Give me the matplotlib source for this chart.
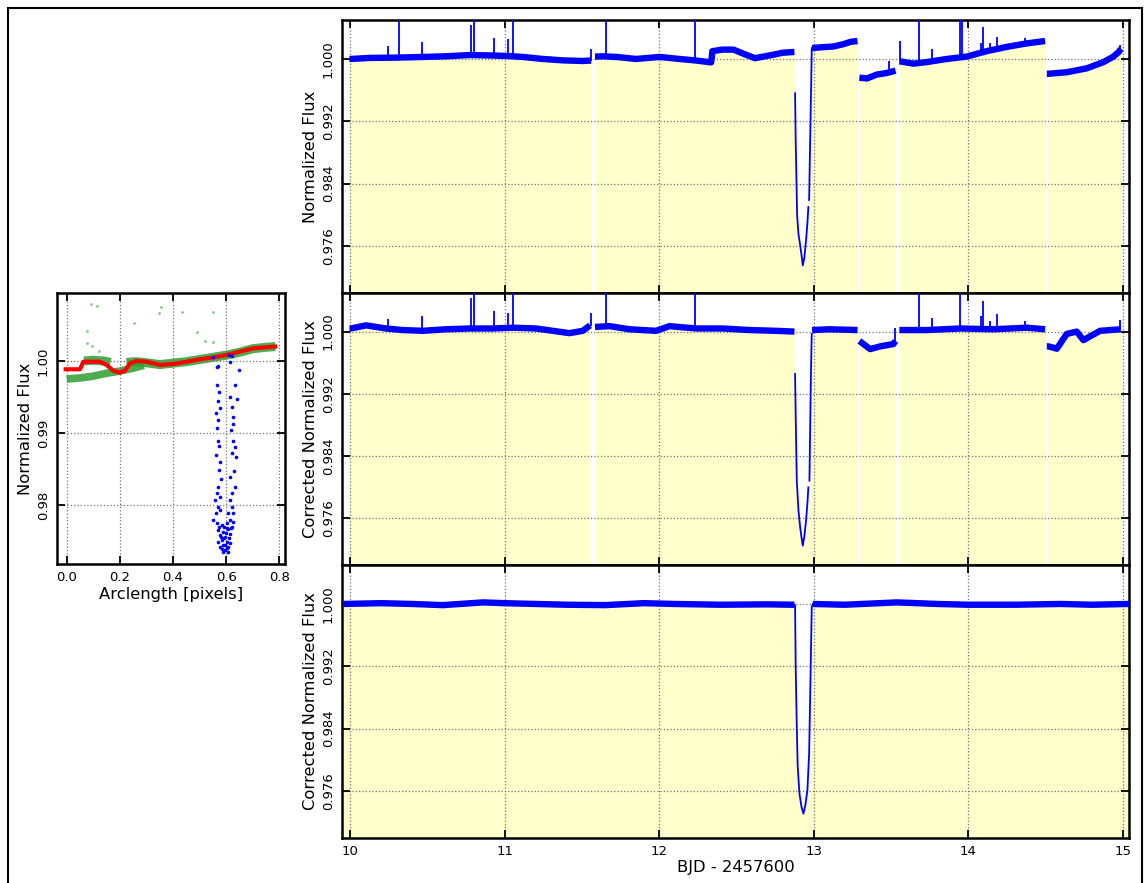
import numpy as np
import matplotlib
matplotlib.use('Agg')
import matplotlib.pyplot as plt
from matplotlib.patches import Rectangle

NaN = np.nan

# ---------------- data: raw light curve (top) ----------------
raw_base_t = [9.996, 10.006, 10.125, 10.298, 10.47, 10.62, 10.772, 10.88, 11.01, 11.118, 11.247, 11.377, 11.506, 11.56,
              11.572,
              11.585, 11.635, 11.722, 11.851, 12.002, 12.131, 12.239, 12.337, 12.345, 12.41, 12.481, 12.542, 12.62, 12.74, 12.80, 12.876,
              12.93,
              12.99, 13.05, 13.128, 13.193, 13.24, 13.284,
              13.29,
              13.296, 13.345, 13.41, 13.474, 13.53,
              13.54,
              13.555, 13.646, 13.733, 13.862, 13.99, 14.12, 14.25, 14.38, 14.498,
              14.503,
              14.509, 14.52, 14.64, 14.768, 14.876, 14.94, 14.975, 14.988]
raw_base_f = [1.0000, 1.0000, 1.00013, 1.00017, 1.00026, 1.00034, 1.0005, 1.00046, 1.00039, 1.00026, 1.0000, 0.99982, 0.99974, 0.9998,
              NaN,
              1.0003, 1.00034, 1.00026, 1.0000, 1.00026, 1.0000, 0.9998, 0.99956, 1.0010, 1.0012, 1.0012, 1.0007, 1.0001, 1.00055, 1.0008, 1.0009,
              NaN,
              1.0014, 1.0015, 1.0016, 1.0019, 1.0022, 1.0023,
              NaN,
              0.9976, 0.9975, 0.9980, 0.9982, 0.9985,
              NaN,
              0.9997, 0.9994, 0.9996, 1.0000, 1.0003, 1.0010, 1.00155, 1.0020, 1.0023,
              NaN,
              0.9981, 0.9981, 0.9983, 0.99880, 0.9996, 1.0003, 1.0009, 1.0013]
raw_tr_t = [12.880, 12.884, 12.889, 12.893, 12.902, 12.913, 12.922, 12.930, 12.940, 12.951, 12.960, 12.966, 12.969,
            12.971, 12.978, 12.984, 12.988]
raw_tr_f = [0.9956, 0.9895, 0.9845, 0.9800, 0.9775, 0.9761, 0.9748, 0.9735, 0.9745, 0.9767, 0.9790, 0.9810, NaN,
            0.9819, 0.9900, 0.9965, 1.0014]
raw_spike_t = [10.244, 10.320, 10.466, 10.780, 10.805, 10.930, 11.020, 11.053, 11.560, 11.657, 12.231,
               13.491, 13.556, 13.685, 13.765, 13.948, 13.958, 14.082, 14.099, 14.142, 14.186, 14.365, 14.985]
raw_spike_f = [1.0017, 1.0060, 1.0022, 1.0043, 1.0060, 1.0027, 1.0025, 1.0060, 1.0013, 1.0060, 1.0060,
               0.9997, 1.0023, 1.0060, 1.0013, 1.0060, 1.0060, 1.0021, 1.0041, 1.0020, 1.0028, 1.0027, 1.0018]

# ---------------- data: corrected light curve (middle) ----------------
cor_base_t = [9.996, 10.006, 10.104, 10.233, 10.341, 10.47, 10.62, 10.772, 10.924, 11.053, 11.204, 11.312, 11.42, 11.506, 11.553,
              11.572,
              11.585, 11.68, 11.808, 11.98, 12.067, 12.24, 12.412, 12.585, 12.757, 12.876,
              12.93,
              12.99, 13.10, 13.284,
              13.29,
              13.296, 13.366, 13.43, 13.516, 13.53,
              13.54,
              13.555, 13.733, 13.948, 14.164, 14.38, 14.498,
              14.503,
              14.509, 14.52, 14.574, 14.638, 14.703, 14.746, 14.79, 14.854, 14.988]
cor_base_f = [1.0004, 1.0004, 1.0008, 1.0004, 1.0002, 1.0001, 1.0003, 1.0004, 1.0004, 1.0005, 1.0004, 1.0001, 0.9998, 1.0001, 1.0008,
              NaN,
              1.0006, 1.0007, 1.0003, 1.0001, 1.0007, 1.0004, 1.0004, 1.0002, 1.0001, 1.0000,
              NaN,
              1.0002, 1.0003, 1.0002,
              NaN,
              0.9988, 0.99775, 0.9981, 0.9984, 0.9988,
              NaN,
              1.0002, 1.0002, 1.0004, 1.0003, 1.0005, 1.0003,
              NaN,
              0.9981, 0.9981, 0.9978, 0.9997, 1.0000, 0.9989, 0.9994, 1.0001, 1.0003]
cor_tr_t = [12.880, 12.885, 12.891, 12.902, 12.913, 12.922, 12.930, 12.940, 12.951, 12.960, 12.966, 12.969,
            12.973, 12.980, 12.985, 12.988]
cor_tr_f = [0.99456, 0.9880, 0.98084, 0.9770, 0.97483, 0.9735, 0.97248, 0.9737, 0.9757, 0.9780, 0.97998, NaN,
            0.98084, 0.9910, 0.9970, 0.9997]
cor_spike_t = [10.244, 10.466, 10.780, 10.805, 10.930, 11.020, 11.053, 11.560, 11.657, 12.231,
               13.528, 13.685, 13.765, 13.948, 14.082, 14.099, 14.142, 14.186, 14.365, 14.985]
cor_spike_f = [1.0016, 1.0020, 1.0043, 1.0060, 1.0027, 1.0024, 1.0060, 1.0024, 1.0060, 1.0060,
               1.0004, 1.0060, 1.0017, 1.0060, 1.0020, 1.0039, 1.0013, 1.0023, 1.0013, 1.0015]

# ---------------- data: final corrected light curve (bottom) ----------------
fin_base_t = [9.957, 10.2, 10.4, 10.6, 10.86, 11.0, 11.2, 11.4, 11.65, 11.9, 12.1, 12.4, 12.7, 12.876,
              12.93,
              12.995, 13.2, 13.54, 13.8, 14.0, 14.3, 14.6, 14.8, 15.04]
fin_base_f = [1.0000, 1.0001, 1.0000, 0.99985, 1.0002, 1.0001, 1.0000, 0.9999, 0.99985, 1.0001, 1.0000, 0.9999, 0.99995, 0.9999,
              NaN,
              1.0000, 0.9999, 1.0002, 1.0000, 0.9999, 0.9999, 1.0000, 0.9999, 1.0000]
fin_tr_t = [12.876, 12.880, 12.884, 12.891, 12.897, 12.908, 12.921, 12.934, 12.947, 12.960, 12.971, 12.980, 12.988, 12.995]
fin_tr_f = [0.9999, 0.99983, 0.99194, 0.98426, 0.97914, 0.97573, 0.97402, 0.97308, 0.97423, 0.97615, 0.98085, 0.99066, 0.99962, 1.0000]

# ---------------- data: flux vs arclength (left) ----------------
red_arc = [-0.004, 0.05, 0.0625, 0.125, 0.15, 0.175, 0.20, 0.219, 0.238, 0.262, 0.30, 0.351, 0.401, 0.451, 0.50, 0.552,
           0.602, 0.652, 0.702, 0.752, 0.784]
red_flux = [0.99885, 0.99885, 0.9999, 0.9999, 0.99945, 0.99866, 0.99838, 0.99866, 0.99968, 1.0000, 0.9999, 0.99945,
            0.99958, 0.9999, 1.00023, 1.0005, 1.00083, 1.0013, 1.00175, 1.0019, 1.0020]
green_up_arc = [0.065, 0.10, 0.14, 0.165]
green_up_flux = [1.0000, 1.0001, 1.0000, 0.9998]
green_up2_arc = [0.225, 0.26, 0.30, 0.35, 0.40, 0.45, 0.50, 0.55, 0.60, 0.65, 0.70, 0.75, 0.785]
green_up2_flux = [0.9998, 0.9999, 0.99975, 0.9995, 0.9997, 0.9999, 1.0002, 1.0005, 1.0008, 1.0012, 1.0017, 1.0019, 1.0020]
green_lo_arc = [0.0, 0.05, 0.10, 0.15, 0.20, 0.25, 0.29]
green_lo_flux = [0.9975, 0.99765, 0.9979, 0.9983, 0.9986, 0.9990, 0.9994]
green_out_arc = [0.090, 0.113, 0.355, 0.348, 0.433, 0.549, 0.254, 0.489, 0.075, 0.520, 0.552, 0.078, 0.095, 0.120]
green_out_flux = [1.0079, 1.00766, 1.00752, 1.0066, 1.00674, 1.00683, 1.00522, 1.00397, 1.0042, 1.00277, 1.00268,
                  1.00254, 1.00208, 1.00143]
blue_arc = [0.5517, 0.5705, 0.5667, 0.6119, 0.6232, 0.6144, 0.6470, 0.6332, 0.5642, 0.5730, 0.5705, 0.6144, 0.6420,
            0.5617, 0.5768, 0.6207, 0.5667, 0.5705, 0.6270, 0.6245, 0.5705, 0.5743, 0.6182, 0.6270, 0.5617, 0.6332,
            0.6357, 0.5768, 0.6207, 0.5730, 0.6295, 0.5793, 0.6144, 0.5705, 0.6332, 0.5642, 0.6207, 0.5768, 0.6144,
            0.5580, 0.5705, 0.6207, 0.5617, 0.6081, 0.5517, 0.5768, 0.6144, 0.6270,
            0.5642, 0.5831, 0.6019, 0.6207, 0.5705, 0.5893, 0.6081, 0.5768, 0.5956, 0.6144, 0.5831, 0.6019, 0.5893,
            0.6081, 0.5768, 0.5956, 0.5868, 0.6144, 0.5705, 0.5994, 0.5918, 0.6119, 0.5806, 0.6044, 0.5743, 0.6270,
            0.6169, 0.5969, 0.5843, 0.6069, 0.5906, 0.6019]
blue_flux = [1.0005, 0.99935, 0.99912, 1.00083, 1.00069, 0.99986, 0.99875, 0.99663, 0.99668, 0.99566, 0.99451, 0.99506,
             0.99469, 0.99284, 0.99344, 0.99358, 0.99067, 0.99183, 0.99229, 0.99127, 0.98897, 0.98827, 0.99044, 0.98897,
             0.98698, 0.98814, 0.98666, 0.98606, 0.98721, 0.98490, 0.98481, 0.98370, 0.98398, 0.98260, 0.98260, 0.98167,
             0.98167, 0.98121, 0.98075, 0.98075, 0.97982, 0.97982, 0.97890, 0.97890, 0.97798, 0.97936, 0.97798, 0.97890,
             0.97752, 0.97729, 0.97761, 0.97705, 0.97659, 0.97636, 0.97669, 0.97590, 0.97567, 0.97604, 0.97521, 0.97498,
             0.97452, 0.97428, 0.97428, 0.97382, 0.97359, 0.97475, 0.97498, 0.97613, 0.97705, 0.97544, 0.97567, 0.97405,
             0.97705, 0.97775, 0.97682, 0.97452, 0.97392, 0.97359, 0.97544, 0.97682]

lc_yticks = [0.976, 0.984, 0.992, 1.000]
lc_xticks = [10, 11, 12, 13, 14, 15]
arc_xticks = [0.0, 0.2, 0.4, 0.6, 0.8]
arc_yticks = [0.98, 0.99, 1.00]

# ---------------- style ----------------
LINE = '#0000ff'
FILL = '#ffffcc'
LBL = 11.8
TCK = 9.5

W, H = 1148, 883
fig = plt.figure(figsize=(W / 100, H / 100), dpi=100)
fig.patch.set_facecolor('white')


def px_axes(l, t, r, b):
    return fig.add_axes([l / W, 1 - b / H, (r - l) / W, (b - t) / H])


def style(ax):
    for s in ax.spines.values():
        s.set_linewidth(1.8)
    ax.tick_params(direction='in', top=True, right=True, length=6, width=1.3,
                   labelsize=TCK, pad=5)
    ax.tick_params(axis='y', labelrotation=90)
    for lab in ax.get_yticklabels():
        lab.set_va('center')
    ax.grid(True, linestyle=':', color='0.45', linewidth=0.9)
    ax.set_axisbelow(False)


ax_arc = px_axes(56.7, 292.7, 285, 564)
ax_raw = px_axes(341.7, 20, 1129.3, 292.7)
ax_cor = px_axes(341.7, 292.7, 1129.3, 565)
ax_fin = px_axes(341.7, 565, 1129.3, 837.7)

YL = (0.9700, 1.0050)
XL = (9.946, 15.043)


def chunks(t, f):
    """split a series at NaN values into contiguous pieces"""
    out, cur_t, cur_f = [], [], []
    for a, b in zip(t, f):
        if np.isnan(b):
            if cur_t:
                out.append((cur_t, cur_f))
            cur_t, cur_f = [], []
        else:
            cur_t.append(a); cur_f.append(b)
    if cur_t:
        out.append((cur_t, cur_f))
    return out


def draw_lc(ax, bt, bf, tt, tf, st, sp, ylabel):
    bt = np.asarray(bt, float); bf = np.asarray(bf, float)
    tt = np.asarray(tt, float); tf = np.asarray(tf, float)
    # fill below the curve: merge baseline and transit, dropping the line
    # separators that sit inside the transit window
    t0, t1 = np.nanmin(tt), np.nanmax(tt)
    keep = ~(np.isnan(bf) & (bt > t0 - 0.01) & (bt < t1 + 0.01))
    ttk = ~np.isnan(tf)
    at = np.concatenate([bt[keep], tt[ttk]]); af = np.concatenate([bf[keep], tf[ttk]])
    o = np.argsort(at, kind='stable')
    at, af = at[o], af[o]
    for ct, cf in chunks(at, af):
        ax.fill_between(ct, cf, YL[0], color=FILL, lw=0, zorder=1)
    ax.plot(tt, tf, color=LINE, lw=1.3, zorder=3)
    ax.plot(bt, bf, color=LINE, lw=4.6, solid_capstyle='butt', zorder=3)
    if len(st):
        ok = ~np.isnan(bf)
        base = np.interp(st, bt[ok], bf[ok])
        ax.vlines(st, base, sp, color=LINE, lw=1.3, zorder=3)
    ax.set_xlim(*XL)
    ax.set_ylim(*YL)
    ax.set_xticks(lc_xticks)
    ax.set_yticks(lc_yticks)
    ax.set_yticklabels(['%.3f' % v for v in lc_yticks])
    ax.set_ylabel(ylabel, fontsize=LBL, labelpad=3)
    style(ax)


draw_lc(ax_raw, raw_base_t, raw_base_f, raw_tr_t, raw_tr_f, raw_spike_t, raw_spike_f, 'Normalized Flux')
draw_lc(ax_cor, cor_base_t, cor_base_f, cor_tr_t, cor_tr_f, cor_spike_t, cor_spike_f, 'Corrected Normalized Flux')
draw_lc(ax_fin, fin_base_t, fin_base_f, fin_tr_t, fin_tr_f, [], [], 'Corrected Normalized Flux')
ax_raw.tick_params(labelbottom=False)
ax_cor.tick_params(labelbottom=False)
ax_fin.set_xticklabels([str(v) for v in lc_xticks])
ax_fin.set_xlabel('BJD - 2457600', fontsize=LBL, labelpad=2)

# left panel
GREEN = '#2e9e2e'
ax_arc.plot(green_lo_arc, green_lo_flux, color=GREEN, lw=5.5, alpha=0.85, solid_capstyle='butt', zorder=2)
ax_arc.plot(green_up_arc, green_up_flux, color=GREEN, lw=6.5, alpha=0.85, solid_capstyle='butt', zorder=2)
ax_arc.plot(green_up2_arc, green_up2_flux, color=GREEN, lw=6.5, alpha=0.85, solid_capstyle='butt', zorder=2)
ax_arc.plot(green_out_arc, green_out_flux, 'o', color='#66bb66', ms=2, mew=0, alpha=0.8, zorder=2)
ax_arc.plot(red_arc, red_flux, color='#ff0000', lw=3, zorder=3)
ax_arc.plot(blue_arc, blue_flux, 'o', color='#0000ff', ms=2.6, mew=0, zorder=4)
ax_arc.set_xlim(-0.0376, 0.8214)
ax_arc.set_ylim(0.97187, 1.00946)
ax_arc.set_xticks(arc_xticks)
ax_arc.set_xticklabels(['%.1f' % v for v in arc_xticks])
ax_arc.set_yticks(arc_yticks)
ax_arc.set_yticklabels(['%.2f' % v for v in arc_yticks])
ax_arc.set_xlabel('Arclength [pixels]', fontsize=LBL, labelpad=2)
ax_arc.set_ylabel('Normalized Flux', fontsize=LBL, labelpad=3)
style(ax_arc)

# outer frame
fig.add_artist(Rectangle((7.5 / W, -0.02), (1142 - 7.5) / W, 1.02 - 7.5 / H,
                         transform=fig.transFigure, fill=False, edgecolor='black', lw=1.5))

fig.savefig('out.png', dpi=100, facecolor='white')
